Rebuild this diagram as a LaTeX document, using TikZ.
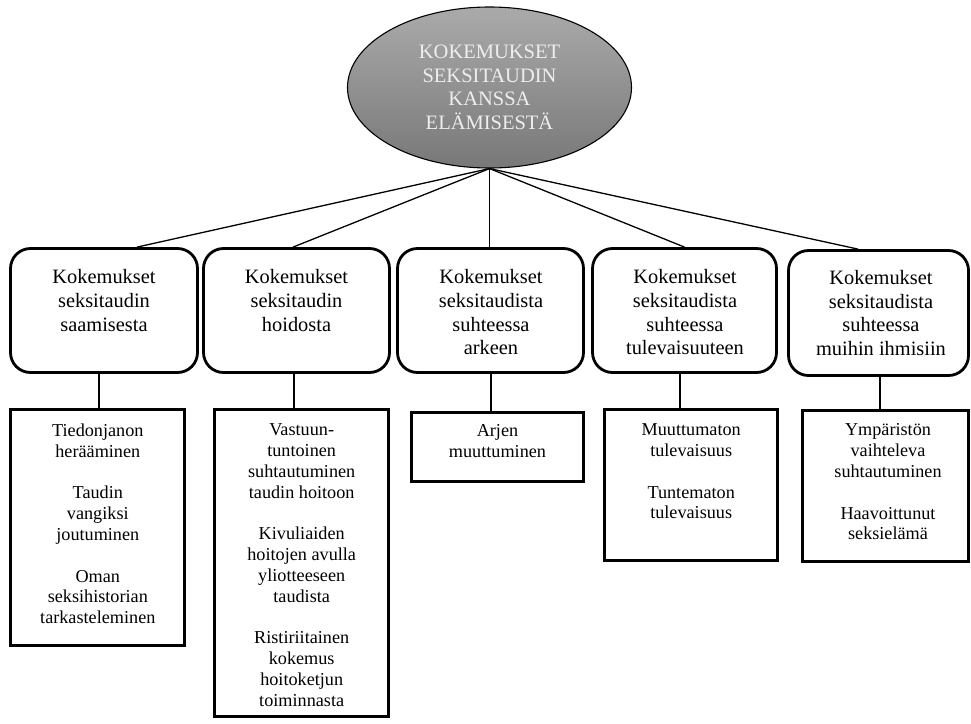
\documentclass[tikz,border=0pt]{standalone}
\usepackage{fontspec}
\setmainfont{Liberation Serif}
\usetikzlibrary{shapes.geometric,calc}

\definecolor{hubtop}{RGB}{170,170,170}
\definecolor{hubbottom}{RGB}{120,120,120}
\definecolor{hubtext}{RGB}{238,238,238}

\begin{document}
\begin{tikzpicture}[x=1pt,y=-1pt,
  hub/.style={ellipse, draw=black, line width=1.1pt, minimum width=284pt,
    minimum height=161pt, inner sep=0pt, top color=hubtop, bottom color=hubbottom,
    text=hubtext, align=center, font=\fontsize{20.5}{23.5}\selectfont},
  theme/.style={draw, rounded corners=20pt, line width=2.8pt, inner sep=0pt},
  themetext/.style={anchor=north, inner sep=0pt, align=center,
    font=\fontsize{20.4}{23.6}\selectfont},
  detail/.style={draw, line width=2.8pt, inner sep=0pt},
  detailtext/.style={anchor=north, inner sep=0pt, align=center,
    font=\fontsize{18.2}{20.8}\selectfont},
  link/.style={line width=1.3pt}]

\useasboundingbox (0,0) rectangle (971,723);

% main theme
\node[hub] (hub) at (489.5,87.5)
  {KOKEMUKSET\\SEKSITAUDIN\\KANSSA\\ELÄMISESTÄ};

% upper categories
\node[theme, minimum width=187pt, minimum height=124pt] (b1) at (104,310.5) {};
\node[theme, minimum width=186pt, minimum height=124pt] (b2) at (296.5,310.5) {};
\node[theme, minimum width=186pt, minimum height=124pt] (b3) at (490.5,310.5) {};
\node[theme, minimum width=184pt, minimum height=124pt] (b4) at (684.5,310.5) {};
\node[theme, minimum width=180pt, minimum height=125pt] (b5) at (878.5,313) {};

\node[themetext] (t1) at (104,269.6) {Kokemukset\\seksitaudin\\saamisesta};
\node[themetext] (t2) at (296.5,269.6) {Kokemukset\\seksitaudin\\hoidosta};
\node[themetext] (t3) at (491,269.6) {Kokemukset\\seksitaudista\\suhteessa\\arkeen};
\node[themetext] (t4) at (685,269.6) {Kokemukset\\seksitaudista\\suhteessa\\tulevaisuuteen};
\node[themetext] (t5) at (881,270.4) {Kokemukset\\seksitaudista\\suhteessa\\muihin ihmisiin};

% lower detail boxes
\node[detail, minimum width=174pt, minimum height=236pt] (r1) at (97.5,527.5) {};
\node[detail, minimum width=174pt, minimum height=307pt] (r2) at (301.5,563) {};
\node[detail, minimum width=172pt, minimum height=69pt] (r3) at (497.5,447) {};
\node[detail, minimum width=173pt, minimum height=151pt] (r4) at (691,485) {};
\node[detail, minimum width=166pt, minimum height=151pt] (r5) at (885.5,486) {};

\node[detailtext] (u1) at (97.8,423.6)
  {Tiedonjanon\\herääminen\\[20.8pt]Taudin\\vangiksi\\joutuminen\\[20.8pt]Oman\\seksihistorian\\tarkasteleminen};
\node[detailtext] (u2) at (301.7,423.6)
  {Vastuun-\\tuntoinen\\suhtautuminen\\taudin hoitoon\\[20.8pt]Kivuliaiden\\hoitojen avulla\\yliotteeseen\\taudista\\[20.8pt]Ristiriitainen\\kokemus\\hoitoketjun\\toiminnasta};
\node[detailtext] (u3) at (497.5,424.3) {Arjen\\muuttuminen};
\node[detailtext] (u4) at (691.2,423.6)
  {Muuttumaton\\tulevaisuus\\[20.8pt]Tuntematon\\tulevaisuus};
\node[detailtext] (u5) at (888,423.6)
  {Ympäristön\\vaihteleva\\suhtautuminen\\[20.8pt]Haavoittunut\\seksielämä};

% connectors from the main theme
\draw[link] (hub.south) -- ($(b1.north)+(33,0)$);
\draw[link] (hub.south) -- ($(b2.north)+(-3.5,0)$);
\draw[link] (hub.south) -- (hub.south |- b3.north);
\draw[link] (hub.south) -- (b4.north);
\draw[link] (hub.south) -- ($(b5.north)+(-20.5,0)$);

% connectors from categories to details
\coordinate (k1) at ($(b1.south)+(-5,0)$);
\coordinate (k2) at ($(b2.south)+(-2.5,0)$);
\coordinate (k3) at ($(b3.south)+(0.5,0)$);
\coordinate (k4) at ($(b4.south)+(-4.5,0)$);
\coordinate (k5) at ($(b5.south)+(1.5,0)$);
\draw[link] (k1) -- (k1 |- r1.north);
\draw[link] (k2) -- (k2 |- r2.north);
\draw[link] (k3) -- (k3 |- r3.north);
\draw[link] (k4) -- (k4 |- r4.north);
\draw[link] (k5) -- (k5 |- r5.north);
\end{tikzpicture}
\end{document}
